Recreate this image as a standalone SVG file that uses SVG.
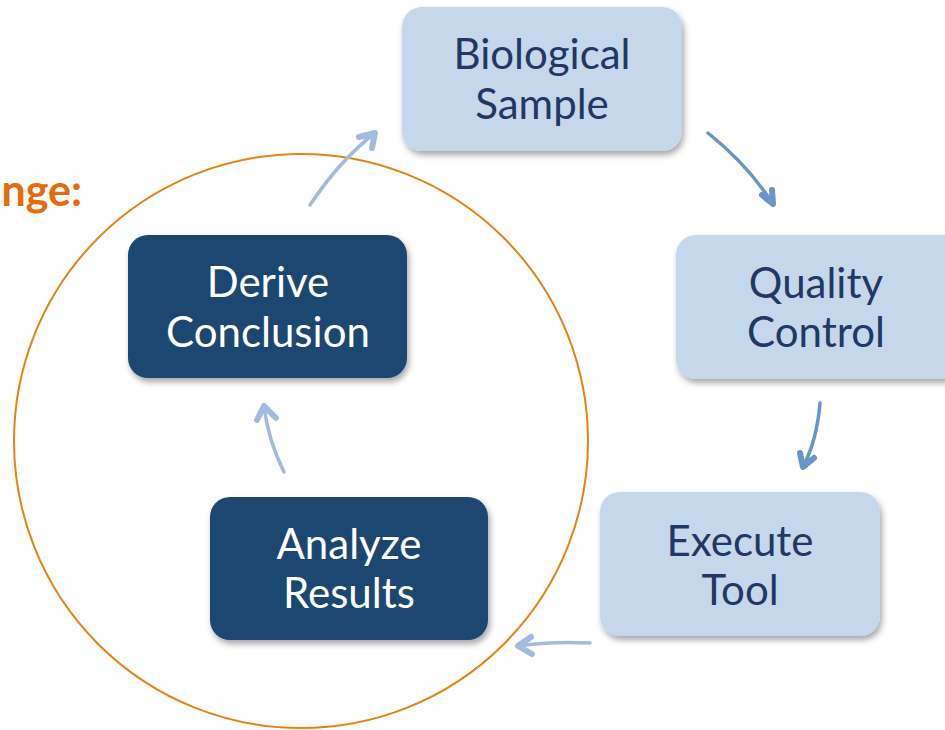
<svg xmlns="http://www.w3.org/2000/svg" width="945" height="730" viewBox="0 0 945 730">
<defs>
<filter id="sh" x="-10%" y="-10%" width="125%" height="130%">
<feDropShadow dx="2" dy="4" stdDeviation="3" flood-color="#000" flood-opacity="0.35"/>
</filter>
<style>
.light rect{fill:#c5d7ea;filter:url(#sh)}
.dark rect{fill:#1f4670;filter:url(#sh)}
.light text{fill:#1f3864}
.dark text{fill:#ffffff}
text{font-family:Lato,"Open Sans",sans-serif;font-size:42px;text-anchor:middle}
.c{fill:none;stroke-linecap:round;stroke-linejoin:round}
.a1{stroke:#6a95c8}
.a2{stroke:#a3bbdd}
.ln{stroke-width:3.5}
.hd{stroke-width:6}
</style>
</defs>
<rect width="945" height="730" fill="#ffffff"/>
<circle cx="301" cy="441" r="287" fill="none" stroke="#e9820f" stroke-width="2"/>
<text x="82" y="206" style="fill:#e46c0a;font-weight:bold;font-size:43px;text-anchor:end">nge:</text>
<g id="bio" class="light"><rect x="402" y="7" width="280" height="144" rx="20"/><text x="542" y="69">Biological</text><text x="542" y="119">Sample</text></g>
<g id="qc" class="light"><rect x="676" y="235" width="290" height="144" rx="20"/><text x="816" y="298">Quality</text><text x="816" y="347">Control</text></g>
<g id="exec" class="light"><rect x="600" y="492" width="280" height="144" rx="20"/><text x="740" y="556">Execute</text><text x="740" y="605">Tool</text></g>
<g id="analyze" class="dark"><rect x="210" y="497" width="278" height="143" rx="20"/><text x="349" y="559">Analyze</text><text x="349" y="608">Results</text></g>
<g id="derive" class="dark"><rect x="128" y="235" width="279" height="143" rx="20"/><text x="268" y="297">Derive</text><text x="268" y="347">Conclusion</text></g>
<g id="connectors" class="c">
<path class="a1 ln" d="M708,133 Q748,165 773,204"/>
<path class="a1 hd" d="M762,195 L773,204 L772,190"/>
<path class="a1 ln" d="M820,403 Q817,440 803,467"/>
<path class="a1 hd" d="M800,453 L803,467 L814,458"/>
<path class="a2 ln" d="M590,643 Q550,641 518,646"/>
<path class="a2 hd" d="M531,637 L518,646 L532,654"/>
<path class="a2 ln" d="M284,472 Q268,440 264,406"/>
<path class="a2 hd" d="M257,420 L264,406 L276,418"/>
<path class="a2 ln" d="M310,205 Q340,160 375,133"/>
<path class="a2 hd" d="M359,137 L375,133 L372,148"/>
</g>
</svg>
